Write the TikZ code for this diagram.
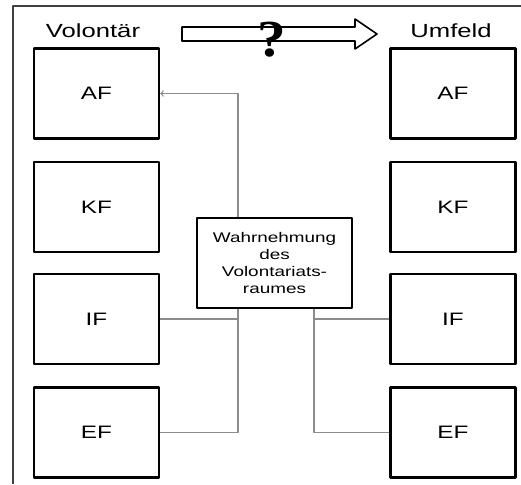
\documentclass[tikz,border=0pt]{standalone}
\usepackage{fontspec}
\setmainfont[FakeStretch=1.35]{Liberation Sans}
\newfontfamily\qfont[FakeStretch=1.1]{Liberation Serif}
\usetikzlibrary{positioning}
\begin{document}
\begin{tikzpicture}[x=1pt,y=-1pt,>=to,line join=round,
    feld/.style={draw,line width=2.4pt,minimum width=125pt,minimum height=90pt,inner sep=0pt,font=\fontsize{18}{18}\selectfont},
    mitte/.style={draw,line width=2.4pt,minimum width=155pt,minimum height=90pt,inner sep=0pt,align=center,font=\fontsize{14}{17}\selectfont},
    kopf/.style={anchor=base,font=\fontsize{19}{19}\selectfont},
    verb/.style={draw=black!45,line width=1.3pt}]
  \useasboundingbox (0,0) rectangle (521,484);
  % Rahmen links und oben
  \draw[black!75,line width=1.2pt] (13,484)--(13,6)--(521,6);
  \node[kopf] (vol) at (93,38) {Volontär};
  \node[kopf] (umf) at (451,38) {Umfeld};
  % Blockpfeil mit Fragezeichen
  \draw[line width=1.6pt] (182,27)--(355,27)--(355,19)--(377,34)--(355,49)--(355,41)--(182,41)--cycle;
  \node[anchor=base,font=\qfont\bfseries\fontsize{52}{52}\selectfont] (frage) at (272,57) {?};
  \foreach \n/\lab/\y in {af/AF/93.5,kf/KF/207,if/IF/319,ef/EF/432.5}{
    \node[feld] (v\n) at (96.5,\y) {\lab};
    \node[feld] (u\n) at (453,\y) {\lab};
  }
  \node[mitte] (wahr) at (274.5,263) {Wahrnehmung\\des\\Volontariats-\\raumes};
  \coordinate (lx) at (238,0);
  \coordinate (rx) at (314,0);
  \draw[verb,->] (wahr.north -| lx) |- (vaf.east);
  \draw[verb] (wahr.south -| lx) |- (vef.east);
  \draw[verb] (vif.east) -- (vif.east -| lx);
  \draw[verb] (wahr.south -| rx) |- (uef.west);
  \draw[verb] (uif.west) -- (uif.west -| rx);
\end{tikzpicture}
\end{document}
